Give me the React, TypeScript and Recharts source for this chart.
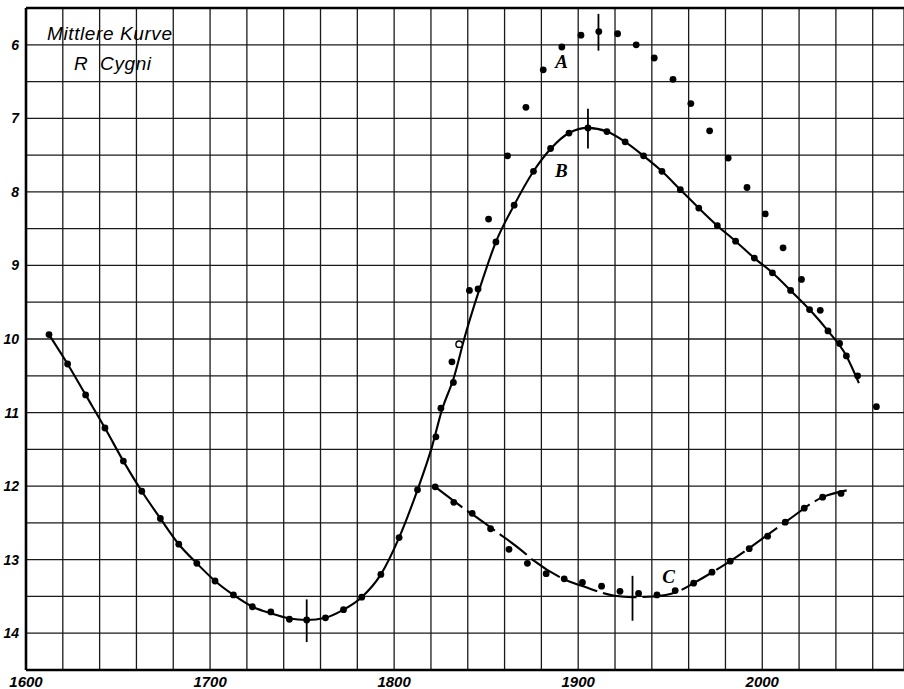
import React from 'react';
import {
  ComposedChart, Line, Scatter, XAxis, YAxis, CartesianGrid, ReferenceLine, ReferenceDot,
} from 'recharts';

// Tick values (grid every 20 days / 0.5 mag; labels at 100 / whole mags)
const X_TICKS = [1600, 1620, 1640, 1660, 1680, 1700, 1720, 1740, 1760, 1780, 1800, 1820, 1840, 1860, 1880, 1900, 1920, 1940, 1960, 1980, 2000, 2020, 2040, 2060];
const Y_TICKS = [5.5, 6, 6.5, 7, 7.5, 8, 8.5, 9, 9.5, 10, 10.5, 11, 11.5, 12, 12.5, 13, 13.5, 14, 14.5];

// Curve B (drawn line)
const B_CURVE: [number, number][] = [
  [1612.5, 9.94], [1622.6, 10.34], [1632.4, 10.76], [1642.9, 11.21], [1652.9, 11.66], [1662.9, 12.07],
  [1673.0, 12.44], [1683.0, 12.79], [1692.8, 13.05], [1702.7, 13.29], [1712.7, 13.48], [1723.0, 13.64],
  [1733.0, 13.73], [1743.1, 13.80], [1752.5, 13.82], [1762.7, 13.79], [1772.5, 13.68], [1782.4, 13.51],
  [1792.8, 13.20], [1802.7, 12.70], [1812.7, 12.05], [1820.5, 11.47], [1825.9, 10.97], [1832.5, 10.52],
  [1838.5, 9.96], [1846.0, 9.35], [1855.3, 8.68], [1865.2, 8.18], [1875.7, 7.72], [1885.2, 7.41],
  [1895.0, 7.20], [1905.3, 7.13], [1915.6, 7.18], [1925.5, 7.32], [1935.5, 7.51], [1945.5, 7.72],
  [1955.5, 7.97], [1965.5, 8.22], [1975.6, 8.46], [1985.5, 8.67], [1995.7, 8.90], [2005.5, 9.10],
  [2015.4, 9.34], [2025.7, 9.60], [2035.7, 9.89], [2045.7, 10.23], [2052.5, 10.60],
];

// Observed points belonging to B
const B_DOTS: [number, number][] = [
  [1612.5, 9.94], [1622.6, 10.34], [1632.4, 10.76], [1642.9, 11.21], [1652.9, 11.66], [1662.9, 12.07],
  [1673.0, 12.44], [1683.0, 12.79], [1692.8, 13.05], [1702.7, 13.29], [1712.7, 13.48], [1723.0, 13.64],
  [1733.0, 13.71], [1743.1, 13.81], [1752.5, 13.82], [1762.7, 13.79], [1772.5, 13.68], [1782.4, 13.51],
  [1792.8, 13.20], [1802.7, 12.70], [1812.7, 12.05], [1822.7, 11.33], [1825.4, 10.94], [1832.2, 10.59],
  [1845.6, 9.32], [1855.3, 8.68], [1865.2, 8.18], [1875.7, 7.72], [1885.0, 7.41], [1895.0, 7.20],
  [1905.3, 7.13], [1915.6, 7.18], [1925.5, 7.32], [1935.5, 7.51], [1945.5, 7.72], [1955.5, 7.97],
  [1965.5, 8.22], [1975.6, 8.46], [1985.5, 8.67], [1995.7, 8.90], [2005.5, 9.10], [2015.4, 9.34],
  [2025.7, 9.60], [2035.7, 9.89], [2045.7, 10.23], [2051.8, 10.50],
];

// Observed points belonging to A
const A_DOTS: [number, number][] = [
  [1831.4, 10.31], [1840.9, 9.34], [1851.3, 8.37], [1861.6, 7.51], [1871.6, 6.85], [1881.0, 6.34],
  [1891.1, 6.03], [1901.5, 5.87], [1911.2, 5.82], [1921.4, 5.85], [1931.5, 6.00], [1941.3, 6.18],
  [1951.5, 6.47], [1961.2, 6.80], [1971.4, 7.17], [1981.5, 7.54], [1991.7, 7.94], [2001.6, 8.30],
  [2011.3, 8.76], [2021.3, 9.19], [2031.5, 9.61], [2042.0, 10.06], [2062.0, 10.92],
];

// Open circle
const OPEN_DOTS: [number, number][] = [[1835.3, 10.07]];

// Curve C (drawn line)
const C_CURVE: [number, number][] = [
  [1822.3, 12.01], [1837.7, 12.30], [1848.5, 12.49], [1856.7, 12.64], [1868.5, 12.86], [1875.7, 13.01],
  [1890.2, 13.24], [1904.7, 13.38], [1919.7, 13.49], [1930.0, 13.51], [1941.0, 13.50], [1955.4, 13.42],
  [1962.7, 13.32], [1982.6, 13.02], [2012.5, 12.49], [2032.8, 12.15], [2047.5, 12.05],
];

// Observed points belonging to C
const C_DOTS: [number, number][] = [
  [1822.3, 12.01], [1832.4, 12.22], [1842.4, 12.37], [1852.4, 12.58], [1862.4, 12.86], [1872.4, 13.05],
  [1882.6, 13.19], [1892.4, 13.26], [1902.3, 13.31], [1912.7, 13.36], [1922.7, 13.43], [1932.8, 13.46],
  [1942.8, 13.48], [1952.7, 13.42], [1962.7, 13.32], [1972.7, 13.17], [1982.6, 13.02], [1992.9, 12.85],
  [2002.9, 12.68], [2012.5, 12.49], [2022.8, 12.30], [2032.8, 12.15], [2042.8, 12.10],
];

// Extremum marks: [x, yFrom, yTo]
const MARKS: [number, number, number][] = [
  [1752.5, 13.54, 14.12],
  [1905.3, 6.87, 7.41],
  [1911.0, 5.58, 6.08],
  [1929.5, 13.22, 13.83],
];

// Curve letters
const LETTERS: { t: string; x: number; y: number }[] = [
  { t: 'A', x: 1891.0, y: 6.23 },
  { t: 'B', x: 1890.9, y: 7.70 },
  { t: 'C', x: 1949.1, y: 13.23 },
];

const toObj = (a: [number, number][]) => a.map(([x, y]) => ({ x, y }));

const Dot = (p: any) => <circle cx={p.cx} cy={p.cy} r={3.4} fill="#000" />;
const OpenDot = (p: any) => <circle cx={p.cx} cy={p.cy} r={3.2} fill="#fff" stroke="#000" strokeWidth={1.4} />;

const tickFont = { fontFamily: 'Liberation Sans, Arial, sans-serif', fontStyle: 'italic', fontWeight: 700, fill: '#000' };

export default function App() {
  return (
    <div style={{ position: 'absolute', left: 0, top: 0, width: 904, height: 689, background: '#fff', overflow: 'hidden' }}>
      <ComposedChart width={904} height={689} margin={{ top: 8, right: 0, left: 0, bottom: 0 }}>
        <CartesianGrid stroke="#1a1a1a" strokeWidth={1.3} />
        <XAxis
          type="number"
          dataKey="x"
          domain={[1600, 2077]}
          ticks={X_TICKS}
          interval={0}
          allowDataOverflow
          height={19}
          tickLine={false}
          tickSize={0}
          tickMargin={6}
          axisLine={{ stroke: '#000', strokeWidth: 2.6 }}
          tick={{ ...tickFont, fontSize: 15 }}
          tickFormatter={(v: number) => (v % 100 === 0 ? String(v) : '')}
        />
        <YAxis
          type="number"
          dataKey="y"
          reversed
          domain={[5.5, 14.5]}
          ticks={Y_TICKS}
          interval={0}
          allowDataOverflow
          width={26}
          tickLine={false}
          tickSize={0}
          tickMargin={7}
          axisLine={{ stroke: '#000', strokeWidth: 2.6 }}
          tick={{ ...tickFont, fontSize: 14 }}
          tickFormatter={(v: number) => (Number.isInteger(v) && v >= 6 && v <= 14 ? String(v) : '')}
        />
        <ReferenceLine y={5.5} stroke="#000" strokeWidth={2.6} />
        <Line data={toObj(B_CURVE)} dataKey="y" type="monotone" stroke="#000" strokeWidth={2.1} dot={false} isAnimationActive={false} />
        <Line data={toObj(C_CURVE)} dataKey="y" type="monotone" stroke="#000" strokeWidth={2.1} strokeDasharray="34 6" dot={false} isAnimationActive={false} />
        <Scatter data={toObj(B_DOTS)} shape={Dot} isAnimationActive={false} />
        <Scatter data={toObj(A_DOTS)} shape={Dot} isAnimationActive={false} />
        <Scatter data={toObj(C_DOTS)} shape={Dot} isAnimationActive={false} />
        <Scatter data={toObj(OPEN_DOTS)} shape={OpenDot} isAnimationActive={false} />
        {MARKS.map(([x, y1, y2], i) => (
          <ReferenceLine key={'m' + i} segment={[{ x, y: y1 }, { x, y: y2 }]} stroke="#000" strokeWidth={1.8} />
        ))}
        {LETTERS.map((l) => (
          <ReferenceDot
            key={l.t}
            x={l.x}
            y={l.y}
            r={0}
            fill="none"
            stroke="none"
            label={{
              value: l.t,
              position: 'center',
              fill: '#000',
              fontSize: 19,
              fontStyle: 'italic',
              fontWeight: 700,
              fontFamily: 'Liberation Serif, Times New Roman, serif',
            }}
          />
        ))}
      </ComposedChart>
      <div style={{ position: 'absolute', left: 47, top: 23, fontFamily: 'Liberation Sans, Arial, sans-serif', fontStyle: 'italic', fontSize: 19, letterSpacing: 0.6, lineHeight: '22px', whiteSpace: 'pre', color: '#000' }}>
        Mittlere Kurve
      </div>
      <div style={{ position: 'absolute', left: 74, top: 53, fontFamily: 'Liberation Sans, Arial, sans-serif', fontStyle: 'italic', fontSize: 19, letterSpacing: 0.6, lineHeight: '22px', whiteSpace: 'pre', color: '#000' }}>
        {'R  Cygni'}
      </div>
    </div>
  );
}
